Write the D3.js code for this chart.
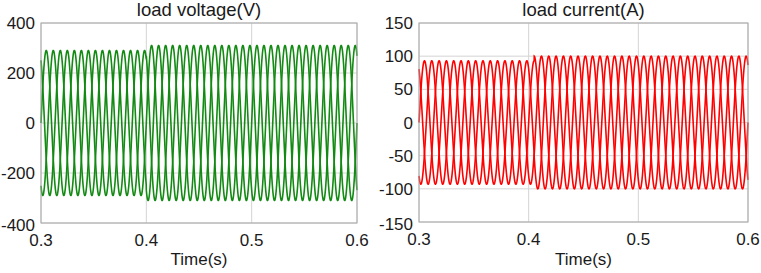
<!DOCTYPE html>
<html lang="en">
<head>
    <meta charset="UTF-8">
    <title>load voltage / load current</title>
    <script src="https://cdn.jsdelivr.net/npm/d3@7"></script>
    <style>
        body { margin: 0; background: #fff; }
        text { font-family: Arial, "Liberation Sans", sans-serif; fill: #1a1a1a; }
        .grid line { stroke: #d4d4d4; stroke-width: 1px; }
        .frame { fill: none; stroke: #a8a8a8; stroke-width: 1px; }
    </style>
</head>
<body>
    <script>
        // values
        var xTicks = [0.3, 0.4, 0.5, 0.6];
        var timeRange = [0.3, 0.6];
        var freq = 50;                       // Hz, 15 envelope peaks per 0.1 s
        var phaseAngles = [0, -120, 120];    // three phases, degrees
        var voltTicks = [-400, -200, 0, 200, 400];
        var voltAmp = [290, 310];            // peak before / after the step
        var voltStep = 0.4;
        var currTicks = [-150, -100, -50, 0, 50, 100, 150];
        var currAmp = [93, 100];
        var currStep = 0.405;

        var W = 761, H = 273;
        var svg = d3.select("body").append("svg")
            .attr("width", W).attr("height", H);

        function wave(amp, step, ph) {
            var pts = [];
            var n = 3000;
            for (var i = 0; i <= n; i++) {
                var t = timeRange[0] + (timeRange[1] - timeRange[0]) * i / n;
                var a = t < step ? amp[0] : amp[1];
                pts.push([t, a * Math.sin(2 * Math.PI * freq * t + ph * Math.PI / 180)]);
            }
            return pts;
        }

        function panel(opt) {
            var x = d3.scaleLinear().domain(timeRange).range([opt.left, opt.right]);
            var y = d3.scaleLinear().domain(opt.domain).range([opt.bottom, opt.top]);
            var g = svg.append("g");

            // grid
            var grid = g.append("g").attr("class", "grid");
            grid.selectAll(".gx").data(xTicks).enter().append("line")
                .attr("x1", d => x(d)).attr("x2", d => x(d))
                .attr("y1", opt.top).attr("y2", opt.bottom);
            grid.selectAll(".gy").data(opt.ticks).enter().append("line")
                .attr("x1", opt.left).attr("x2", opt.right)
                .attr("y1", d => y(d)).attr("y2", d => y(d));

            // waves
            var line = d3.line().x(d => x(d[0])).y(d => y(d[1]));
            g.selectAll(".wave").data(phaseAngles).enter().append("path")
                .attr("d", ph => line(wave(opt.amp, opt.step, ph)))
                .attr("fill", "none")
                .attr("stroke", opt.color)
                .attr("stroke-width", 1.6);

            g.append("rect").attr("class", "frame")
                .attr("x", opt.left).attr("y", opt.top)
                .attr("width", opt.right - opt.left).attr("height", opt.bottom - opt.top);

            // tick labels
            g.selectAll(".xl").data(xTicks).enter().append("text")
                .attr("x", d => x(d)).attr("y", opt.bottom + 23)
                .attr("text-anchor", "middle").attr("font-size", "17px")
                .text(d => d);
            g.selectAll(".yl").data(opt.ticks).enter().append("text")
                .attr("x", opt.left - 6).attr("y", (d, i) => y(d) + (i == 0 ? 8 : 6))
                .attr("text-anchor", "end").attr("font-size", "17px")
                .text(d => d);

            g.append("text")
                .attr("x", (opt.left + opt.right) / 2).attr("y", 16)
                .attr("text-anchor", "middle").attr("font-size", "18.5px")
                .text(opt.title);
            g.append("text")
                .attr("x", (opt.left + opt.right) / 2).attr("y", 265)
                .attr("text-anchor", "middle").attr("font-size", "17px")
                .text("Time(s)");
        }

        panel({ left: 41, right: 357, top: 23, bottom: 223,
            domain: [-400, 400], ticks: voltTicks, amp: voltAmp, step: voltStep,
            color: "#138a13", title: "load voltage(V)" });
        panel({ left: 419, right: 748, top: 23, bottom: 222,
            domain: [-150, 150], ticks: currTicks, amp: currAmp, step: currStep,
            color: "#ff0000", title: "load current(A)" });
    </script>
</body>
</html>
